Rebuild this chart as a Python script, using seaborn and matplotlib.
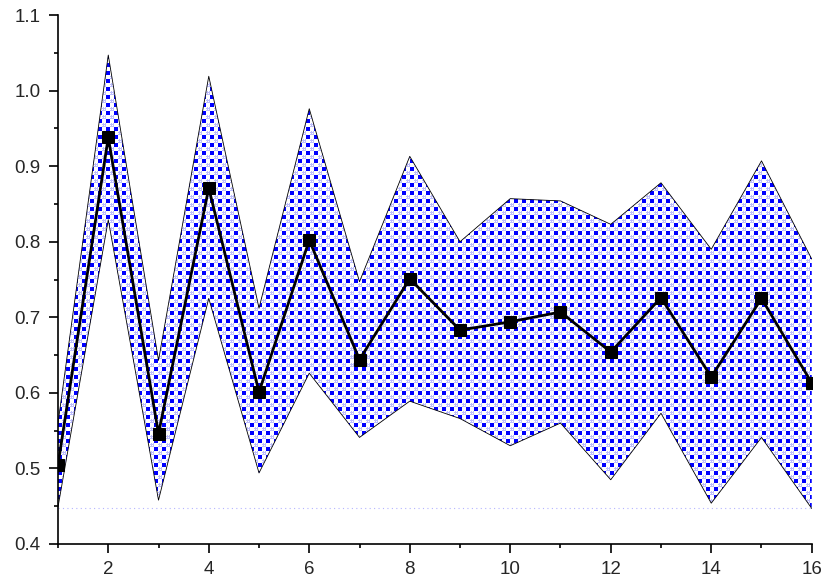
import numpy as np
import pandas as pd
import matplotlib
matplotlib.use('Agg')
import matplotlib.pyplot as plt
import seaborn as sns

# 데이터
x_vals = list(range(1, 17))
mean_vals = [0.505, 0.938, 0.546, 0.871, 0.601, 0.802, 0.644, 0.751,
             0.683, 0.694, 0.707, 0.654, 0.726, 0.621, 0.725, 0.613]
upper_vals = [0.560, 1.047, 0.643, 1.019, 0.712, 0.976, 0.747, 0.913,
              0.800, 0.857, 0.854, 0.823, 0.878, 0.790, 0.907, 0.777]
lower_vals = [0.449, 0.829, 0.458, 0.725, 0.494, 0.626, 0.541, 0.589,
              0.566, 0.530, 0.560, 0.485, 0.573, 0.454, 0.541, 0.447]
baseline = 0.447
x_ticks = [2, 4, 6, 8, 10, 12, 14, 16]
y_ticks = [0.4, 0.5, 0.6, 0.7, 0.8, 0.9, 1.0, 1.1]

df = pd.DataFrame({'x': x_vals, 'mean': mean_vals})

sns.set_style('ticks')
plt.rcParams['font.family'] = ['Liberation Sans', 'DejaVu Sans']

fig = plt.figure(figsize=(8.3, 5.87), dpi=100)
ax = fig.add_axes([0.0699, 0.0733, 0.9081, 0.9011])

ax.set_xlim(1, 16)
ax.set_ylim(0.4, 1.1)

# 밴드 채우기 (텍스처 이미지 + 폴리곤 클립)
band = ax.fill_between(x_vals, lower_vals, upper_vals, facecolor='none',
                       edgecolor='none', zorder=2)

tile = np.ones((8, 8, 3))
lav = np.array([0.74, 0.74, 1.0])
for r in (5, 7):
    tile[r, 4:8] = lav
for c in (5, 7):
    tile[4:8, c] = lav
tile[0:4, 0:4] = [0.0, 0.0, 1.0]
w_px, h_px = 754, 529
tex = np.tile(tile, (h_px // 8 + 1, w_px // 8 + 1, 1))[:h_px, :w_px]
img = ax.imshow(tex, extent=[1, 16, 0.4, 1.1], aspect='auto',
                interpolation='nearest', origin='upper', zorder=2)
img.set_clip_path(band.get_paths()[0], transform=ax.transData)

ax.plot(x_vals, upper_vals, color='black', lw=0.6, zorder=3)
ax.plot(x_vals, lower_vals, color='black', lw=0.6, zorder=3)
ax.plot([1, 16], [baseline, baseline], color='#b4b4ff', lw=0.8,
        linestyle=(0, (1, 3)), zorder=1)

sns.lineplot(data=df, x='x', y='mean', ax=ax, color='black', lw=2,
             marker='s', markersize=8, markeredgecolor='black', zorder=4)

ax.set_xlabel('')
ax.set_ylabel('')
ax.set_xticks(x_ticks)
ax.set_xticks(range(1, 17), minor=True)
ax.set_yticks(y_ticks)
ax.set_yticks(np.arange(0.45, 1.1, 0.1), minor=True)
ax.set_yticklabels(['%.1f' % v for v in y_ticks])
ax.tick_params(axis='both', which='major', direction='out', length=6.5,
               width=1.2, labelsize=13.5, color='black', pad=6)
ax.tick_params(axis='both', which='minor', direction='out', length=3,
               width=1.2, color='black')
sns.despine(ax=ax)
for s in ('left', 'bottom'):
    ax.spines[s].set_color('black')
    ax.spines[s].set_linewidth(1.2)

fig.savefig('out.png', dpi=100)
